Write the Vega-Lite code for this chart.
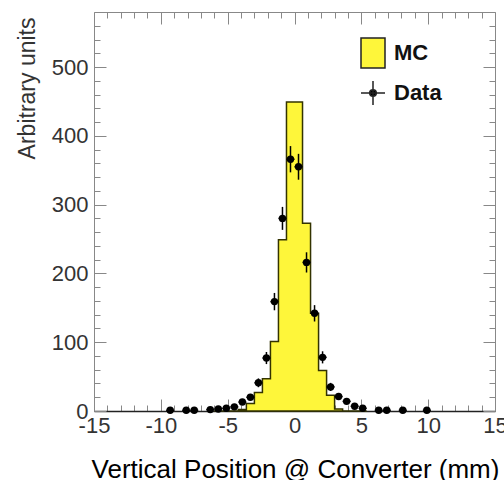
{
  "$schema": "https://vega.github.io/schema/vega-lite/v6.json",
  "width": 401,
  "height": 399,
  "autosize": "none",
  "padding": {"left": 94, "top": 12, "right": 9, "bottom": 69},
  "background": "white",
  "datasets": {
    "mc": [
      {"lo": -6.0, "hi": -5.4, "mc": 0, "err": 0},
      {"lo": -5.4, "hi": -4.8, "mc": 0, "err": 0},
      {"lo": -4.8, "hi": -4.2, "mc": 0, "err": 0},
      {"lo": -4.2, "hi": -3.6, "mc": 2, "err": 1},
      {"lo": -3.6, "hi": -3.0, "mc": 11, "err": 2},
      {"lo": -3.0, "hi": -2.4, "mc": 27, "err": 3},
      {"lo": -2.4, "hi": -1.8, "mc": 47, "err": 4},
      {"lo": -1.8, "hi": -1.2, "mc": 101, "err": 6},
      {"lo": -1.2, "hi": -0.6, "mc": 249, "err": 9},
      {"lo": -0.6, "hi": 0.0, "mc": 449, "err": 13},
      {"lo": 0.0, "hi": 0.6, "mc": 449, "err": 13},
      {"lo": 0.6, "hi": 1.2, "mc": 273, "err": 10},
      {"lo": 1.2, "hi": 1.8, "mc": 142, "err": 7},
      {"lo": 1.8, "hi": 2.4, "mc": 59, "err": 5},
      {"lo": 2.4, "hi": 3.0, "mc": 23, "err": 3},
      {"lo": 3.0, "hi": 3.6, "mc": 3, "err": 1},
      {"lo": 3.6, "hi": 4.2, "mc": 0, "err": 0},
      {"lo": 4.2, "hi": 4.8, "mc": 0, "err": 0},
      {"lo": 4.8, "hi": 5.4, "mc": 0, "err": 0},
      {"lo": 5.4, "hi": 6.0, "mc": 0, "err": 0}
    ],
    "pts": [
      {"x": -9.3, "lo": -9.6, "hi": -9.0, "y": 1, "err": 1},
      {"x": -8.1, "lo": -8.4, "hi": -7.8, "y": 1, "err": 1},
      {"x": -7.5, "lo": -7.8, "hi": -7.2, "y": 1, "err": 1},
      {"x": -6.3, "lo": -6.6, "hi": -6.0, "y": 2, "err": 1.4},
      {"x": -5.7, "lo": -6.0, "hi": -5.4, "y": 3, "err": 1.7},
      {"x": -5.1, "lo": -5.4, "hi": -4.8, "y": 4, "err": 2},
      {"x": -4.5, "lo": -4.8, "hi": -4.2, "y": 6, "err": 2.4},
      {"x": -3.9, "lo": -4.2, "hi": -3.6, "y": 13, "err": 3.6},
      {"x": -3.3, "lo": -3.6, "hi": -3.0, "y": 20, "err": 4.5},
      {"x": -2.7, "lo": -3.0, "hi": -2.4, "y": 41, "err": 6.4},
      {"x": -2.1, "lo": -2.4, "hi": -1.8, "y": 77, "err": 8.8},
      {"x": -1.5, "lo": -1.8, "hi": -1.2, "y": 159, "err": 12.6},
      {"x": -0.9, "lo": -1.2, "hi": -0.6, "y": 280, "err": 16.7},
      {"x": -0.3, "lo": -0.6, "hi": 0.0, "y": 366, "err": 19.1},
      {"x": 0.3, "lo": 0.0, "hi": 0.6, "y": 355, "err": 18.8},
      {"x": 0.9, "lo": 0.6, "hi": 1.2, "y": 216, "err": 14.7},
      {"x": 1.5, "lo": 1.2, "hi": 1.8, "y": 142, "err": 11.9},
      {"x": 2.1, "lo": 1.8, "hi": 2.4, "y": 78, "err": 8.8},
      {"x": 2.7, "lo": 2.4, "hi": 3.0, "y": 35, "err": 5.9},
      {"x": 3.3, "lo": 3.0, "hi": 3.6, "y": 21, "err": 4.6},
      {"x": 3.9, "lo": 3.6, "hi": 4.2, "y": 14, "err": 3.7},
      {"x": 4.5, "lo": 4.2, "hi": 4.8, "y": 7, "err": 2.6},
      {"x": 5.1, "lo": 4.8, "hi": 5.4, "y": 4, "err": 2},
      {"x": 6.3, "lo": 6.0, "hi": 6.6, "y": 1, "err": 1},
      {"x": 6.9, "lo": 6.6, "hi": 7.2, "y": 1, "err": 1},
      {"x": 8.1, "lo": 7.8, "hi": 8.4, "y": 1, "err": 1},
      {"x": 9.9, "lo": 9.6, "hi": 10.2, "y": 1, "err": 1}
    ],
    "leg": [{"s": "MC"}, {"s": "Data"}]
  },
  "resolve": {"axis": {"x": "independent", "y": "independent"}},
  "layer": [
    {
      "data": {"name": "mc"},
      "mark": {"type": "rect", "color": "#f4a0a0", "opacity": 0.6},
      "encoding": {
        "x": {"field": "lo", "type": "quantitative", "scale": {"domain": [-15, 15], "nice": false, "zero": false},
          "axis": {"orient": "bottom", "values": [-14,-13,-12,-11,-9,-8,-7,-6,-4,-3,-2,-1,1,2,3,4,6,7,8,9,11,12,13,14], "tickSize": -6, "labels": false, "domain": false, "title": null}},
        "x2": {"field": "hi"},
        "y": {"field": "mc", "type": "quantitative", "scale": {"domain": [0, 580], "nice": false},
          "axis": {"orient": "left", "values": [20,40,60,80,120,140,160,180,220,240,260,280,320,340,360,380,420,440,460,480,520,540,560], "tickSize": -6, "labels": false, "domain": false, "title": null}},
        "y2": {"field": "err"}
      }
    },
    {
      "data": {"name": "mc"},
      "mark": {"type": "area", "interpolate": "step-after", "fill": "#fef63a", "stroke": "#333300", "strokeWidth": 1.5, "fillOpacity": 1},
      "encoding": {
        "x": {"field": "lo", "type": "quantitative",
          "axis": {"orient": "bottom", "values": [-15,-10,-5,0,5,10,15], "tickSize": -12, "labelPadding": 16, "labelFontSize": 22, "labelColor": "#333", "labelFlush": false, "labelOverlap": false, "domainColor": "#222", "domainWidth": 1.5,
            "labelExpr": "datum.value < 0 ? '-' + abs(datum.value) : '' + datum.value",
            "title": "Vertical Position @ Converter (mm)", "titleFontSize": 26, "titleFontWeight": "normal", "titleColor": "#000", "titleBaseline": "alphabetic", "titleY": 66, "titleX": 201}},
        "y": {"field": "mc", "type": "quantitative",
          "axis": {"orient": "left", "values": [0,100,200,300,400,500], "tickSize": -12, "labelPadding": 18, "labelFontSize": 22, "labelColor": "#333",
            "title": "Arbitrary units", "titleFontSize": 23, "titleFontWeight": "normal", "titleColor": "#333", "titleAngle": -90, "titleAlign": "right", "titleBaseline": "alphabetic", "titleX": -60, "titleY": 5}}
      }
    },
    {
      "data": {"name": "pts"},
      "mark": {"type": "rule", "color": "black", "strokeWidth": 1.5},
      "encoding": {
        "x": {"field": "lo", "type": "quantitative",
          "axis": {"orient": "top", "values": [-15,-10,-5,0,5,10,15], "tickSize": -12, "labels": false, "title": null}},
        "x2": {"field": "hi"},
        "y": {"field": "y", "type": "quantitative",
          "axis": {"orient": "right", "values": [0,100,200,300,400,500], "tickSize": -12, "labels": false, "title": null}}
      }
    },
    {
      "data": {"name": "pts"},
      "mark": {"type": "errorbar", "ticks": false, "color": "black", "thickness": 1.5},
      "encoding": {
        "x": {"field": "x", "type": "quantitative",
          "axis": {"orient": "top", "values": [-14,-13,-12,-11,-9,-8,-7,-6,-4,-3,-2,-1,1,2,3,4,6,7,8,9,11,12,13,14], "tickSize": -6, "labels": false, "domain": false, "title": null}},
        "y": {"field": "y", "type": "quantitative",
          "axis": {"orient": "right", "values": [20,40,60,80,120,140,160,180,220,240,260,280,320,340,360,380,420,440,460,480,520,540,560], "tickSize": -6, "labels": false, "domain": false, "title": null}},
        "yError": {"field": "err"}
      }
    },
    {
      "data": {"name": "pts"},
      "mark": {"type": "point", "filled": true, "color": "black", "size": 55, "opacity": 1},
      "encoding": {
        "x": {"field": "x", "type": "quantitative", "axis": null},
        "y": {"field": "y", "type": "quantitative", "axis": null}
      }
    },
    {
      "data": {"name": "leg"},
      "mark": {"type": "point", "filled": true, "opacity": 0},
      "encoding": {
        "color": {"field": "s", "type": "nominal", "scale": {"domain": ["MC", "Data"], "range": ["#fef63a", "#000000"]},
          "legend": {"title": null, "orient": "none", "legendX": 263, "legendY": 25, "padding": 0, "symbolSize": 900, "symbolOpacity": 1, "symbolStrokeWidth": 1.5, "symbolStrokeColor": "#222", "labelFont": "Liberation Sans", "labelFontSize": 22, "labelFontWeight": "bold", "labelColor": "#111", "labelOffset": 5, "rowPadding": 6,
            "encode": {"symbols": {"update": {"stroke": {"value": "#222"}, "strokeWidth": {"value": 1.5}, "opacity": {"value": 1}}}}}},
        "shape": {"field": "s", "type": "nominal", "scale": {"domain": ["MC", "Data"], "range": ["M-0.8,-1H0.8V1H-0.8Z", "M-0.8,0H0.8M0,-0.8V0.8M-0.22,0A0.22,0.22 0 1,0 0.22,0A0.22,0.22 0 1,0 -0.22,0Z"]},
          "legend": {"title": null, "orient": "none", "legendX": 263, "legendY": 25, "padding": 0, "symbolSize": 900, "symbolOpacity": 1, "symbolStrokeWidth": 1.5, "symbolStrokeColor": "#222", "labelFont": "Liberation Sans", "labelFontSize": 22, "labelFontWeight": "bold", "labelColor": "#111", "labelOffset": 5, "rowPadding": 6,
            "encode": {"symbols": {"update": {"stroke": {"value": "#222"}, "strokeWidth": {"value": 1.5}, "opacity": {"value": 1}}}}}}
      }
    }
  ],
  "config": {
    "view": {"stroke": null},
    "font": "Liberation Sans",
    "axis": {"grid": false, "domainColor": "#888", "domainWidth": 1, "tickColor": "#888", "tickWidth": 1}
  }
}
